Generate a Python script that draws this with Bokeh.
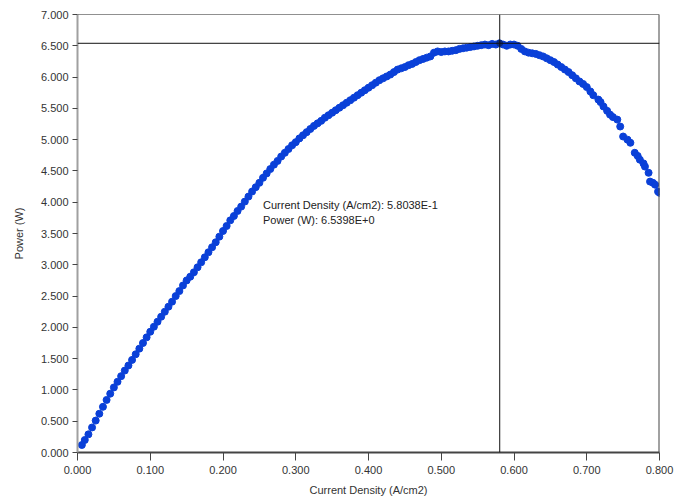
from bokeh.plotting import figure
from bokeh.models import Span, Label, FixedTicker, NumeralTickFormatter, Range1d
from bokeh.embed import file_html
from bokeh.resources import INLINE

# ---- data ----
current_density = [
    0.006, 0.010, 0.015, 0.020, 0.025, 0.030, 0.035, 0.040, 0.045, 0.050,
    0.055, 0.060, 0.065, 0.070, 0.075, 0.080, 0.085, 0.090, 0.095, 0.100,
    0.105, 0.110, 0.115, 0.120, 0.125, 0.130, 0.135, 0.140, 0.145, 0.150,
    0.155, 0.160, 0.165, 0.170, 0.175, 0.180, 0.185, 0.190, 0.195, 0.200,
    0.205, 0.210, 0.215, 0.220, 0.225, 0.230, 0.235, 0.240, 0.245, 0.250,
    0.255, 0.260, 0.265, 0.270, 0.275, 0.280, 0.285, 0.290, 0.295, 0.300,
    0.305, 0.310, 0.315, 0.320, 0.325, 0.330, 0.335, 0.340, 0.345, 0.350,
    0.355, 0.360, 0.365, 0.370, 0.375, 0.380, 0.385, 0.390, 0.395, 0.400,
    0.405, 0.410, 0.415, 0.420, 0.425, 0.430, 0.435, 0.440, 0.445, 0.450,
    0.455, 0.460, 0.465, 0.470, 0.475, 0.480, 0.485, 0.490, 0.495, 0.500,
    0.505, 0.510, 0.515, 0.520, 0.525, 0.530, 0.535, 0.540, 0.545, 0.550,
    0.555, 0.560, 0.565, 0.570, 0.575, 0.580, 0.585, 0.590, 0.595, 0.600,
    0.605, 0.610, 0.615, 0.620, 0.625, 0.630, 0.635, 0.640, 0.645, 0.650,
    0.655, 0.660, 0.665, 0.670, 0.675, 0.680, 0.685, 0.690, 0.695, 0.700,
    0.705, 0.709, 0.716, 0.719, 0.723, 0.728, 0.732, 0.736, 0.742, 0.746,
    0.750, 0.756, 0.760, 0.766, 0.770, 0.773, 0.778, 0.780, 0.785, 0.787,
    0.791, 0.794, 0.798, 0.800,
]
power = [
    0.12, 0.20, 0.29, 0.40, 0.51, 0.62, 0.73, 0.84, 0.94, 1.04,
    1.13, 1.22, 1.31, 1.39, 1.48, 1.57, 1.66, 1.75, 1.84, 1.93,
    2.01, 2.09, 2.17, 2.25, 2.33, 2.41, 2.50, 2.58, 2.67, 2.75,
    2.81, 2.88, 2.96, 3.04, 3.12, 3.20, 3.28, 3.36, 3.45, 3.54,
    3.62, 3.71, 3.78, 3.86, 3.93, 4.01, 4.09, 4.17, 4.24, 4.31,
    4.39, 4.46, 4.53, 4.60, 4.66, 4.73, 4.79, 4.85, 4.91, 4.96,
    5.02, 5.07, 5.12, 5.17, 5.22, 5.26, 5.30, 5.35, 5.39, 5.43,
    5.47, 5.51, 5.55, 5.59, 5.63, 5.67, 5.71, 5.75, 5.79, 5.83,
    5.87, 5.91, 5.95, 5.98, 6.01, 6.04, 6.08, 6.12, 6.14, 6.16,
    6.19, 6.21, 6.24, 6.27, 6.29, 6.31, 6.33, 6.39, 6.41, 6.40,
    6.41, 6.41, 6.42, 6.43, 6.45, 6.46, 6.47, 6.48, 6.49, 6.50,
    6.51, 6.52, 6.51, 6.53, 6.52, 6.54, 6.52, 6.50, 6.52, 6.52,
    6.50, 6.45, 6.41, 6.39, 6.38, 6.37, 6.35, 6.33, 6.30, 6.27,
    6.24, 6.20, 6.16, 6.12, 6.08, 6.03, 5.98, 5.93, 5.89, 5.84,
    5.77, 5.71, 5.64, 5.60, 5.53, 5.46, 5.40, 5.36, 5.32, 5.21,
    5.05, 5.00, 4.95, 4.79, 4.74, 4.68, 4.62, 4.57, 4.47, 4.33,
    4.31, 4.28, 4.17, 4.15,
]
cursor_x = 0.58038
cursor_p = 6.5398
cursor_text = ["Current Density (A/cm2): 5.8038E-1", "Power (W): 6.5398E+0"]
x_ticks = [0.0, 0.1, 0.2, 0.3, 0.4, 0.5, 0.6, 0.7, 0.8]
y_ticks = [0.0, 0.5, 1.0, 1.5, 2.0, 2.5, 3.0, 3.5, 4.0, 4.5, 5.0, 5.5, 6.0, 6.5, 7.0]
x_title = "Current Density (A/cm2)"
y_title = "Power (W)"

FONT = "Liberation Sans"

p = figure(width=686, height=498, output_backend="svg", toolbar_location=None,
           x_range=Range1d(0.0, 0.8), y_range=Range1d(0.0, 7.0),
           min_border_left=77, min_border_right=27, min_border_top=14, min_border_bottom=44)
p.outline_line_color = None
p.xgrid.visible = False
p.ygrid.visible = False
p.background_fill_color = "white"
p.border_fill_color = "white"

p.scatter(current_density, power, size=7, color="#0a40d8", line_color="#0a40d8")

# frame top and right, cursor lines
p.add_layout(Span(location=7.0, dimension="width", line_color="#222222", line_width=1))
p.add_layout(Span(location=0.8, dimension="height", line_color="#444444", line_width=2))
p.add_layout(Span(location=cursor_x, dimension="height", line_color="#111111", line_width=1))
p.add_layout(Span(location=cursor_p, dimension="width", line_color="#111111", line_width=1))
p.scatter([cursor_x], [cursor_p], size=6, color="#0a2a80")

p.add_layout(Label(x=0.255, y=3.96, text=cursor_text[0], text_font=FONT, text_font_size="11px",
                   text_color="#222222", text_baseline="middle"))
p.add_layout(Label(x=0.255, y=3.72, text=cursor_text[1], text_font=FONT, text_font_size="11px",
                   text_color="#222222", text_baseline="middle"))

# axes
p.xaxis.ticker = FixedTicker(ticks=x_ticks)
p.yaxis.ticker = FixedTicker(ticks=y_ticks)
p.xaxis.formatter = NumeralTickFormatter(format="0.000")
p.yaxis.formatter = NumeralTickFormatter(format="0.000")
p.xaxis.axis_label = x_title
p.yaxis.axis_label = y_title
for ax in (p.xaxis[0], p.yaxis[0]):
    ax.major_label_text_font = FONT
    ax.major_label_text_font_size = "11px"
    ax.major_label_text_color = "#333333"
    ax.axis_label_text_font = FONT
    ax.axis_label_text_font_size = "11px"
    ax.axis_label_text_font_style = "normal"
    ax.axis_label_text_color = "#333333"
    ax.minor_tick_line_color = None
    ax.major_tick_in = 0
    ax.major_tick_out = 5
    ax.major_tick_line_color = "#444444"
p.xaxis.major_tick_out = 8
p.xaxis.axis_line_color = "#444444"
p.xaxis.axis_line_width = 2
p.yaxis.axis_line_color = "#a0a0a0"
p.yaxis.axis_line_width = 2
p.xaxis.major_label_standoff = 5
p.xaxis.axis_label_standoff = 7
p.yaxis.major_label_standoff = 4
p.yaxis.axis_label_standoff = 13

open("out.html", "w").write(file_html(p, INLINE))
